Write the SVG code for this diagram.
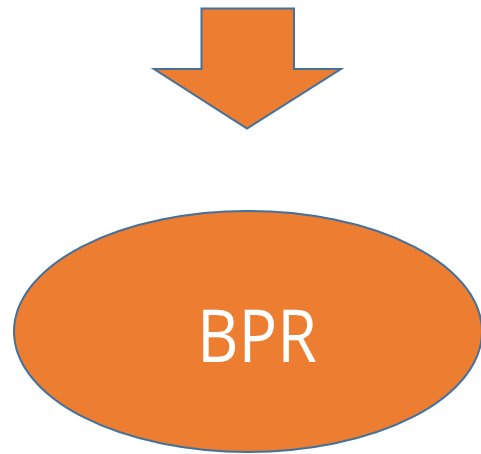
<svg xmlns="http://www.w3.org/2000/svg" width="481" height="454" viewBox="0 0 481 454">
<style>
.shape{fill:#ED7D31;stroke:#41719C;stroke-width:2}
.label{fill:#FFFFFF;font-family:"Open Sans","Noto Sans",sans-serif;font-size:74px;text-anchor:middle}
</style>
<rect width="481" height="454" fill="#FFFFFF"/>
<g id="arrow">
<polygon class="shape" points="201.5,8.5 294,8.5 294,69 341,69 247,128.5 154,69 201.5,69"/>
</g>
<g id="bpr">
<ellipse class="shape" cx="248" cy="331.5" rx="234" ry="120.5"/>
<text class="label" x="257" y="362" textLength="120" lengthAdjust="spacingAndGlyphs">BPR</text>
</g>
<g id="connectors"/>
</svg>
